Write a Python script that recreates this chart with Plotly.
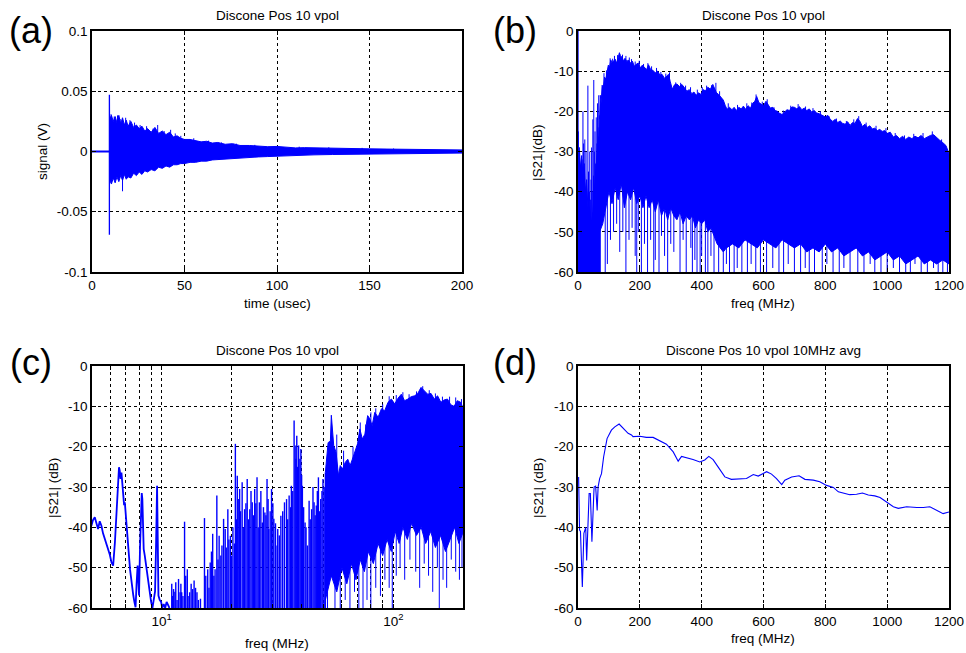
import plotly.graph_objects as go

W, H = 966, 653
BLUE = "#0000FF"
FONT = "Liberation Sans, Arial, sans-serif"

# ---------------- (a) time signal ----------------
a_flat_t = [0, 200]
a_flat_v = [0, 0]
a_pulse_t = [9.4, 9.4, 9.5]
a_pulse_v = [-0.069, 0.047, 0.0]
a_env_t = [9.6, 10.5, 11.5, 12.5, 13.5, 14.5, 15.5, 16.5, 17.5, 18.5, 19.5, 21, 22.5, 24, 25.5, 27, 28.5,
           30, 32, 34, 36, 38, 40, 42, 44, 46, 48, 50, 53, 56, 59, 62, 65, 68, 72, 76, 80, 85, 90, 95,
           100, 105, 110, 115, 120, 130, 140, 150, 160, 170, 180, 190, 200]
a_env_hi = [0.027, 0.030, 0.025, 0.029, 0.024, 0.030, 0.023, 0.028, 0.022, 0.026, 0.021, 0.025, 0.020,
            0.022, 0.019, 0.021, 0.017, 0.019, 0.016, 0.020, 0.015, 0.017, 0.014, 0.016, 0.012, 0.013,
            0.011, 0.010, 0.010, 0.009, 0.008, 0.0085, 0.007, 0.0075, 0.006, 0.0065, 0.005, 0.005,
            0.0045, 0.004, 0.0042, 0.0035, 0.003, 0.0032, 0.003, 0.0028, 0.0025, 0.0022, 0.002, 0.0018,
            0.0016, 0.0014, 0.0013]
a_env_lo = [-0.024, -0.027, -0.022, -0.026, -0.021, -0.025, -0.020, -0.024, -0.019, -0.023, -0.021,
            -0.022, -0.018, -0.020, -0.017, -0.019, -0.016, -0.017, -0.015, -0.016, -0.013, -0.014,
            -0.012, -0.013, -0.011, -0.011, -0.010, -0.010, -0.009, -0.009, -0.008, -0.008, -0.007,
            -0.007, -0.0065, -0.006, -0.0055, -0.005, -0.0045, -0.0042, -0.004, -0.0035, -0.003,
            -0.003, -0.0028, -0.0025, -0.0024, -0.0022, -0.002, -0.0018, -0.0016, -0.0014, -0.0013]
a_spk_t = [10.3, 12.0, 13.8, 15.2, 16.5, 18.2, 20.5, 23.0, 26.0, 29.5, 33.0, 35.5, 39.0, 42.5, 45.0,
           48.0, 55.0, 63.0, 70.0, 78.0, 88.0, 101.0, 112.0, 128.0, 146.0, 163.0]
a_spk_v = [0.031, 0.029, 0.030, 0.027, -0.033, 0.028, 0.026, 0.024, 0.022, 0.021, 0.019, 0.022, 0.017,
           0.018, 0.015, 0.013, 0.011, 0.009, 0.0075, 0.0065, 0.0055, 0.0045, 0.004, 0.0035, 0.003, 0.0025]

# ---------------- (b) |S21| linear freq ----------------
b_up_f = [70, 72, 75, 78, 82, 86, 90, 95, 98, 102, 106, 110, 115, 120, 125, 130, 134, 138, 142, 147, 152,
          158, 163, 170, 176, 182, 188, 195, 202, 208, 215, 222, 228, 235, 242, 250, 258, 265, 272, 280,
          287, 293, 298, 305, 312, 320, 328, 336, 345, 352, 360, 368, 375, 382, 390, 398, 405, 412, 420,
          428, 436, 442, 448, 455, 462, 470, 476, 482, 490, 498, 505, 512, 520, 528, 535, 542, 550, 558,
          565, 572, 578, 585, 592, 600, 608, 615, 622, 630, 638, 645, 652, 660, 668, 676, 684, 692, 700,
          708, 716, 724, 732, 740, 748, 756, 764, 772, 780, 790, 800, 808, 816, 824, 832, 840, 848, 856,
          864, 872, 880, 888, 896, 904, 912, 920, 928, 936, 944, 952, 960, 968, 976, 984, 992, 1000, 1010,
          1020, 1030, 1040, 1050, 1060, 1070, 1080, 1090, 1100, 1110, 1120, 1130, 1140, 1150, 1160, 1170,
          1180, 1190, 1200]
b_up_db = [-22, -16, -18, -13.5, -14, -11.5, -12, -9.5, -8.5, -9, -7.2, -8, -7.5, -7.0, -8, -6.5, -5.4,
           -6.8, -6.3, -7.5, -6.8, -7.6, -7.2, -8.0, -7.5, -8.8, -8.3, -8.0, -9.2, -8.5, -9.0, -9.6, -8.4,
           -9.6, -9.8, -10.4, -10.0, -11.0, -10.8, -11.8, -11.2, -10.8, -12.5, -14.5, -13.4, -13.2, -13.8,
           -13.3, -14.2, -15.0, -14.6, -15.6, -15.2, -16.0, -15.4, -15.8, -14.6, -14.9, -14.0, -14.5,
           -13.3, -14.2, -15.4, -15.8, -16.5, -17.2, -18.5, -19.5, -19.0, -19.6, -19.0, -19.8, -19.0,
           -19.4, -18.7, -19.5, -18.6, -19.2, -18.0, -17.5, -16.3, -17.8, -18.2, -18.6, -17.5, -18.2,
           -19.2, -19.0, -19.8, -20.0, -20.5, -20.8, -20.3, -19.6, -19.8, -18.9, -19.0, -19.4, -18.8,
           -19.6, -19.2, -19.8, -19.4, -20.2, -19.8, -20.4, -20.6, -21.0, -21.4, -21.0, -22.0, -22.5,
           -22.0, -22.8, -22.4, -23.0, -23.2, -22.6, -23.5, -22.8, -23.0, -21.8, -22.5, -23.8, -23.2,
           -24.0, -23.6, -24.4, -24.2, -24.8, -24.5, -25.0, -24.8, -25.5, -25.2, -26.4, -26.0, -26.8,
           -26.2, -27.0, -26.4, -26.8, -26.2, -26.6, -26.0, -26.8, -26.3, -26.0, -25.8, -26.6, -27.2,
           -27.8, -28.5, -30.5]
b_lo_f = [70, 80, 90, 100, 110, 120, 130, 140, 150, 160, 170, 180, 190, 200, 210, 220, 230, 240, 250, 260,
          270, 280, 290, 300, 310, 320, 330, 340, 350, 360, 370, 380, 390, 400, 410, 420, 430, 440, 450,
          460, 470, 480, 500, 520, 540, 560, 580, 600, 620, 640, 660, 680, 700, 720, 740, 760, 780, 800,
          820, 840, 860, 880, 900, 920, 940, 960, 980, 1000, 1020, 1040, 1060, 1080, 1100, 1120, 1140,
          1160, 1180, 1200]
b_lo_db = [-50, -48, -44, -40, -43, -39, -42, -38, -44, -40, -42, -39, -43, -41, -44, -41, -44, -42, -45,
           -42, -46, -44, -47, -44, -46, -47, -45, -48, -46, -47, -46, -49, -47, -48, -47, -50, -49, -51,
           -53, -54, -55, -54, -53, -54, -52, -53, -54, -52, -53, -54, -52, -53, -54, -53, -55, -54, -55,
           -53, -55, -54, -56, -55, -54, -56, -55, -57, -56, -55, -57, -56, -58, -57, -56, -58, -57, -58,
           -57, -58]
b_dn_f = [88, 95, 105, 115, 125, 135, 145, 155, 165, 175, 185, 190, 195, 205, 215, 225, 235, 245, 250, 262,
          270, 280, 290, 300, 310, 330, 340, 350, 365, 370, 378, 385, 395, 400, 412, 420, 430, 440, 455,
          470, 480, 490, 505, 515, 530, 548, 560, 575, 590, 610, 630, 650, 665, 680, 700, 720, 735, 748,
          765, 790, 805, 825, 845, 860, 880, 905, 925, 945, 960, 980, 1000, 1020, 1040, 1060, 1075, 1090,
          1110, 1130, 1150, 1165, 1180, 1195]
b_dn_db = [-60, -58, -52, -50, -48, -55, -50, -60, -52, -49, -56, -60, -50, -60, -53, -60, -52, -60, -57,
           -60, -51, -56, -60, -53, -55, -60, -52, -60, -54, -60, -57, -60, -60, -56, -60, -60, -56, -60,
           -60, -60, -58, -60, -60, -59, -60, -60, -58, -60, -60, -60, -59, -60, -60, -58, -60, -60, -59,
           -60, -60, -60, -58, -60, -60, -59, -60, -60, -60, -58, -60, -60, -60, -59, -60, -60, -60, -58,
           -60, -60, -59, -60, -60, -60]
b_hair_f = [84, 92, 104, 112, 118, 128, 136, 144, 155, 166, 173, 185, 198, 212, 226, 238, 254, 268, 284,
            296, 316, 332, 348, 364, 386, 402, 416, 432, 446, 458, 486, 516, 546, 562, 576, 596, 612, 634,
            664, 688, 712, 736, 760, 784, 812, 836, 868, 892, 908, 932, 964, 996, 1026, 1056, 1086, 1116,
            1146, 1176]
b_hair_db = [-10.5, -9.8, -6.8, -6.9, -6.2, -6.0, -5.8, -5.9, -6.2, -6.6, -7.0, -7.6, -7.4, -8.2, -8.0,
             -8.8, -9.2, -10.2, -10.6, -10.3, -12.8, -12.9, -13.6, -14.0, -14.6, -14.0, -13.6, -13.5,
             -12.9, -15.0, -18.0, -18.4, -18.0, -17.8, -15.8, -17.6, -17.0, -19.0, -19.8, -18.6, -18.2,
             -18.8, -19.2, -20.0, -21.2, -21.8, -22.4, -22.0, -21.2, -22.8, -23.6, -24.2, -25.4, -26.0,
             -25.6, -25.4, -25.0, -27.0]
b_low_f = [0, 4, 8, 12, 16, 20, 24, 28, 32, 36, 40, 44, 48, 52, 56, 60, 64, 68, 72]
b_low_db = [-30, -29, -34, -31, -36, -33, -40, -37, -44, -40, -46, -48, -45, -40, -36, -32, -28, -26, -22]
b_spk_f = [0.5, 1.5, 3, 5, 7, 9, 11, 13, 15, 16, 18, 20, 22, 24, 26, 28, 30, 32, 34, 36, 38, 40, 42, 44,
           46, 48, 50, 51, 53, 55, 57, 59, 61, 63, 65, 67, 69]
b_spk_db = [0, -25, -38, -30, -40, -36, -45, -32, -40, -20, -28, -35, -27, -45, -30, -40, -46, -13.6, -35,
            -45, -30, -42, -37, -29, -40, -22, -36, -12.2, -30, -25, -33, -21.5, -28, -18, -24, -16, -21]

# ---------------- (c) |S21| log freq ----------------
c_curve_f = [4.97, 5.05, 5.14, 5.22, 5.31, 5.4, 5.49, 5.58, 5.68, 5.78, 5.87, 5.97, 6.07, 6.17, 6.28, 6.38,
             6.46, 6.54, 6.59, 6.64, 6.7, 6.76, 6.82, 6.88, 6.93, 7.05, 7.13, 7.22, 7.3, 7.37, 7.45, 7.54,
             7.62, 7.71, 7.79, 7.87, 7.93, 7.98, 8.06, 8.14, 8.2, 8.25, 8.3, 8.36, 8.45, 8.53, 8.62, 8.7,
             8.8, 8.91, 9.0, 9.12, 9.24, 9.36, 9.45, 9.5, 9.55, 9.6, 9.68, 9.8, 9.94, 10.05, 10.2, 10.35,
             10.5, 10.8]
c_curve_db = [-39.6, -38.2, -37.5, -39.0, -40.4, -38.5, -39.6, -41.5, -42.9, -44.0, -45.4, -46.8, -48.7,
              -49.5, -43.7, -37.1, -30.5, -25.1, -26.0, -28.0, -26.4, -30.0, -33.8, -34.5, -33.8, -40.4,
              -44.0, -47.0, -50.5, -52.8, -55.0, -56.9, -58.5, -59.8, -54.0, -49.5, -53.0, -56.9, -45.0,
              -32.1, -31.5, -33.0, -40.0, -45.4, -47.0, -48.7, -50.5, -52.8, -55.0, -56.9, -58.5, -60,
              -58.0, -55.9, -45.0, -35.0, -29.7, -40.0, -56.9, -58.0, -58.5, -60, -59.0, -60, -58.5, -60]
c_spk_f = [11.05, 11.25, 11.5, 11.82, 12.0, 12.2, 12.55, 12.7, 12.9, 13.2, 13.6, 13.8, 14.2, 14.7, 15.3,
           15.5, 15.8, 16.2, 16.6, 17.0, 17.3, 17.7, 18.2, 18.5, 18.8, 19.3, 19.8, 20.3, 20.8, 21.2, 21.7,
           22.25, 22.8, 23.4, 24.0, 24.6, 25.2, 25.8, 26.4, 27.2, 27.9, 28.5, 29.0, 29.8, 30.5, 31.5, 31.7,
           32.7, 33.9, 34.6, 35.5, 36.3, 37.3, 37.7, 38.3, 39.0, 39.5, 39.9, 40.5, 41.6, 42.6, 43.3, 44.4,
           45.5, 46.5, 47.5, 48.6, 49.7, 50.9,
           11.15, 11.4, 11.65, 12.1, 12.35, 13.0, 13.4, 14.0, 14.4, 16.0, 16.4, 16.8, 17.5, 18.0, 19.0,
           19.5, 20.0, 20.6, 21.0, 21.4, 21.9, 22.5, 23.1, 23.7, 24.3, 24.9, 25.5, 26.1, 26.8, 27.5, 28.2,
           28.8, 29.4, 30.2, 31.0, 32.2, 33.3, 35.0, 36.0, 36.8, 38.0, 38.6, 40.2, 41.0, 42.0, 43.8, 45.0,
           46.0, 47.0, 48.0, 49.2, 50.3]
c_spk_db = [-54, -55.3, -53.6, -52.8, -56.1, -56.1, -38.6, -52, -50.4, -56.1, -55.3, -53.2, -56.1, -57.7,
            -37.7, -52, -50.4, -48.7, -41.6, -50.4, -32.1, -42.1, -44.5, -37.9, -40.4, -35.5, -42.1, -40,
            -19.3, -27.2, -30.5, -28.8, -35.5, -28, -35.5, -33.8, -30.5, -27.6, -33.8, -38.8, -36.3, -28,
            -40.4, -30.5, -37.9, -44.5, -40.4, -37.1, -33.8, -33, -32.1, -29.7, -13.5, -19.7, -17.3, -19.7,
            -23, -20.6, -29.7, -38.8, -44.5, -33.4, -35.5, -33.8, -34.6, -27.6, -33, -28, -26.4,
            -57, -56, -58, -54, -57, -57, -54, -55, -58, -55, -46, -52, -48, -47, -45,
            -43, -47, -44, -38, -33, -36, -40, -34, -38, -31, -37, -34, -40, -31, -35, -37,
            -33, -36, -34, -39, -42, -36, -38, -35, -31, -23, -25, -27, -35, -40, -38, -30,
            -37, -31, -36, -31, -30]
c_up_f = [50.9, 52.3, 53.5, 54.0, 55.3, 56.6, 58.0, 59.0, 60.4, 62.0, 63.6, 65.1, 66.6, 68.3, 70.1, 71.7,
          73.5, 75.4, 77.5, 79.2, 81.0, 83.2, 86.0, 88.9, 91.8, 94.9, 98.1, 101.4, 104.8, 108.3, 111.9,
          115.6, 119.5, 123.5, 127.6, 131.8, 136.2, 140.8, 145.5, 150.3, 155.3, 160.5, 165.9, 171.4,
          177.1, 183, 189, 195.5, 200.8]
c_up_db = [-26.4, -19, -18.6, -12.2, -19.7, -21.4, -27.2, -24.7, -25.5, -23.9, -23.1, -24.7, -23.1, -21.4,
           -19.3, -15.6, -18.1, -16.9, -12.3, -13.1, -14.8, -11.5, -12.7, -10.6, -11.1, -9.0, -8.2, -9.4,
           -8.0, -7.0, -8.6, -8.2, -7.6, -7.4, -6.8, -5.3, -6.2, -7.0, -6.8, -8.2, -7.4, -9.0, -8.4, -8.2,
           -9.6, -10.0, -8.6, -9.0, -10.6]
c_lo_f = [50.9, 54, 57, 60, 63, 66, 69, 72, 75, 78, 82, 86, 90, 94, 98, 102, 106, 110, 115, 120, 126, 132,
          138, 145, 152, 160, 168, 176, 184, 192, 200.8]
c_lo_db = [-58, -52, -56, -50, -54, -49, -53, -48, -51, -46, -49, -44, -47, -43, -46, -41, -44, -40, -43,
           -39, -42, -40, -44, -41, -45, -42, -46, -43, -40, -44, -41]
c_dn_f = [52, 56, 59, 62, 65, 68, 71, 74, 77, 80, 84, 88, 92, 96, 99, 103, 107, 112, 118, 125, 130, 136,
          142, 148, 155, 158, 164, 170, 178, 186, 193, 198]
c_dn_db = [-60, -60, -60, -58, -60, -56, -60, -60, -58, -60, -55, -57, -53, -55, -60, -52, -50, -53, -48,
           -51, -55, -49, -52, -56, -50, -60, -53, -55, -48, -51, -53, -50]
c_hair_f = [57, 61, 67, 72, 76, 80, 84, 90, 96, 103, 110, 117, 126, 134, 143, 152, 163, 175, 186, 197]
c_hair_db = [-17, -21, -20, -14, -14.5, -11.5, -10.5, -9.5, -7.5, -7.2, -6.5, -7.0, -6.3, -5.0, -6.0, -6.8,
             -7.6, -7.6, -7.8, -8.2]

# ---------------- (d) 10 MHz average ----------------
d_f = [2, 5, 8, 14, 19, 25, 28, 36, 40, 45, 52, 57, 62, 65, 70, 76, 83, 94, 108, 119, 133, 146, 162, 173,
       178, 200, 221, 243, 264, 286, 308, 324, 335, 351, 372, 394, 410, 423, 437, 453, 475, 496, 523, 545,
       567, 583, 610, 626, 642, 659, 669, 691, 715, 734, 761, 782, 804, 826, 842, 858, 879, 901, 920, 939,
       960, 977, 998, 1020, 1036, 1063, 1096, 1117, 1138, 1160, 1181, 1200]
d_db = [-27.5, -40.7, -41.0, -54.8, -41.5, -40.0, -48.2, -31.6, -31.6, -43.6, -30.0, -29.8, -35.8, -30.0,
        -27.9, -26.7, -22.5, -18.0, -15.9, -15.1, -14.4, -15.5, -16.7, -17.1, -17.5, -17.4, -17.7, -17.7,
        -18.5, -19.4, -21.3, -23.6, -22.4, -22.7, -23.2, -23.8, -23.3, -22.4, -23.2, -25.0, -27.5, -28.1,
        -27.9, -27.9, -26.9, -27.3, -26.2, -26.8, -27.9, -29.4, -28.3, -27.5, -27.2, -28.1, -28.3, -28.7,
        -29.6, -30.1, -31.2, -31.5, -31.9, -31.8, -31.5, -32.0, -32.2, -32.6, -33.7, -34.9, -35.3, -34.9,
        -35.1, -35.1, -34.9, -35.8, -36.6, -36.2]

# tick labels
a_xticks = [0, 50, 100, 150, 200]
a_yticks = [-0.1, -0.05, 0, 0.05, 0.1]
a_ytext = ["-0.1", "-0.05", "0", "0.05", "0.1"]
lin_fticks = [0, 200, 400, 600, 800, 1000, 1200]
db_ticks = [-60, -50, -40, -30, -20, -10, 0]
db_text = ["-60", "-50", "-40", "-30", "-20", "-10", "0"]
log_ticks = [6, 7, 8, 9, 10, 20, 30, 40, 50, 60, 70, 80, 90, 100, 200]
log_text = ["", "", "", "", "10<sup>1</sup>", "", "", "", "", "", "", "", "", "10<sup>2</sup>", ""]

titles = ["Discone Pos 10 vpol", "Discone Pos 10 vpol", "Discone Pos 10 vpol",
          "Discone Pos 10 vpol 10MHz avg"]
xlabels = ["time (usec)", "freq (MHz)", "freq (MHz)", "freq (MHz)"]
ylabels = ["signal (V)", "|S21|(dB)", "|S21| (dB)", "|S21| (dB)"]
letters = ["(a)", "(b)", "(c)", "(d)"]


def vlines(xs, y0s, y1s):
    X, Y = [], []
    for x, a, b in zip(xs, y0s, y1s):
        X += [x, x, None]
        Y += [a, b, None]
    return X, Y


def band(xu, yu, xl, yl, xa, ya):
    return go.Scatter(x=list(xu) + list(xl)[::-1], y=list(yu) + list(yl)[::-1], fill="toself",
                      fillcolor=BLUE, mode="lines", line=dict(color=BLUE, width=1),
                      xaxis=xa, yaxis=ya, hoverinfo="skip", showlegend=False)


def line(x, y, xa, ya, w=1.0):
    return go.Scatter(x=x, y=y, mode="lines", line=dict(color=BLUE, width=w), xaxis=xa, yaxis=ya,
                      hoverinfo="skip", showlegend=False, connectgaps=False)


fig = go.Figure()
# (a)
fig.add_trace(band(a_env_t, a_env_hi, a_env_t, a_env_lo, "x", "y"))
fig.add_trace(line(a_flat_t, a_flat_v, "x", "y", 2))
fig.add_trace(line(a_pulse_t, a_pulse_v, "x", "y", 1.3))
X, Y = vlines(a_spk_t, [0] * len(a_spk_t), a_spk_v)
fig.add_trace(line(X, Y, "x", "y", 1))
# (b)
fig.add_trace(go.Scatter(x=b_low_f + [b_low_f[-1], b_low_f[0]], y=b_low_db + [-60, -60], fill="toself",
                         fillcolor=BLUE, mode="lines", line=dict(color=BLUE, width=1), xaxis="x2",
                         yaxis="y2", hoverinfo="skip", showlegend=False))
fig.add_trace(band(b_up_f, b_up_db, b_lo_f, b_lo_db, "x2", "y2"))
X, Y = vlines(b_spk_f, [-60] * len(b_spk_f), b_spk_db)
fig.add_trace(line(X, Y, "x2", "y2", 1))
X, Y = vlines(b_dn_f, [-35] * len(b_dn_f), b_dn_db)
fig.add_trace(line(X, Y, "x2", "y2", 1))
X, Y = vlines(b_hair_f, [-30] * len(b_hair_f), b_hair_db)
fig.add_trace(line(X, Y, "x2", "y2", 1))
# (c)
fig.add_trace(line(c_curve_f, c_curve_db, "x3", "y3", 1.8))
X, Y = vlines(c_spk_f, [-60] * len(c_spk_f), c_spk_db)
fig.add_trace(line(X, Y, "x3", "y3", 1.4))
fig.add_trace(band(c_up_f, c_up_db, c_lo_f, c_lo_db, "x3", "y3"))
X, Y = vlines(c_dn_f, [-35] * len(c_dn_f), c_dn_db)
fig.add_trace(line(X, Y, "x3", "y3", 1))
X, Y = vlines(c_hair_f, [-30] * len(c_hair_f), c_hair_db)
fig.add_trace(line(X, Y, "x3", "y3", 1))
# (d)
fig.add_trace(line(d_f, d_db, "x4", "y4", 1.1))

# layout geometry (pixels)
boxes = [(92, 462, 31, 272), (578, 949, 31, 272), (92, 463, 366, 608), (578, 949, 366, 608)]


def px(x):
    return x / W


def py(y):
    return 1 - y / H


common = dict(showline=True, linecolor="black", linewidth=1.5, mirror="ticks", ticks="inside",
              ticklen=4, tickcolor="black", showgrid=True, gridcolor="black", griddash="3px,3px",
              gridwidth=1, zeroline=False, tickmode="array", automargin=False,
              tickfont=dict(family=FONT, size=13.5, color="black"))

layout = dict(width=W, height=H, margin=dict(l=0, r=0, t=0, b=0, autoexpand=False),
              paper_bgcolor="white", plot_bgcolor="white", showlegend=False, template="none")

xcfg = [dict(range=[0, 200], tickvals=a_xticks, ticktext=[str(v) for v in a_xticks]),
        dict(range=[0, 1200], tickvals=lin_fticks, ticktext=[str(v) for v in lin_fticks]),
        dict(type="log", range=[0.69897, 2.30103], tickvals=log_ticks, ticktext=log_text),
        dict(range=[0, 1200], tickvals=lin_fticks, ticktext=[str(v) for v in lin_fticks])]
ycfg = [dict(range=[-0.1, 0.1], tickvals=a_yticks, ticktext=a_ytext),
        dict(range=[-60, 0], tickvals=db_ticks, ticktext=db_text),
        dict(range=[-60, 0], tickvals=db_ticks, ticktext=db_text),
        dict(range=[-60, 0], tickvals=db_ticks, ticktext=db_text)]

annotations = []
xt_pos = [(277, 303), (763, 303), (277, 643), (763, 638)]
yt_pos = [(42, 152), (538, 153), (53, 488), (538, 488)]
let_pos = [(31, 30), (515, 30), (31, 362), (515, 362)]
for i, (x0, x1, y0, y1) in enumerate(boxes):
    sfx = "" if i == 0 else str(i + 1)
    layout["xaxis" + sfx] = dict(common, domain=[px(x0), px(x1)], anchor="y" + sfx, **xcfg[i])
    layout["yaxis" + sfx] = dict(common, domain=[py(y1), py(y0)], anchor="x" + sfx, **ycfg[i])
    annotations.append(dict(text=titles[i], x=px((x0 + x1) / 2), y=py(y0 - 16), xref="paper",
                            yref="paper", showarrow=False, xanchor="center", yanchor="middle",
                            font=dict(family=FONT, size=13.5, color="black")))
    annotations.append(dict(text=xlabels[i], x=px(xt_pos[i][0]), y=py(xt_pos[i][1]), xref="paper",
                            yref="paper", showarrow=False, xanchor="center", yanchor="middle",
                            font=dict(family=FONT, size=13.5, color="black")))
    annotations.append(dict(text=ylabels[i], x=px(yt_pos[i][0]), y=py(yt_pos[i][1]), xref="paper",
                            yref="paper", showarrow=False, xanchor="center", yanchor="middle",
                            textangle=-90, font=dict(family=FONT, size=13.5, color="black")))
    annotations.append(dict(text=letters[i], x=px(let_pos[i][0]), y=py(let_pos[i][1]), xref="paper",
                            yref="paper", showarrow=False, xanchor="center", yanchor="middle",
                            font=dict(family=FONT, size=36, color="black")))
layout["annotations"] = annotations
fig.update_layout(**layout)
fig.write_html("out.html")
